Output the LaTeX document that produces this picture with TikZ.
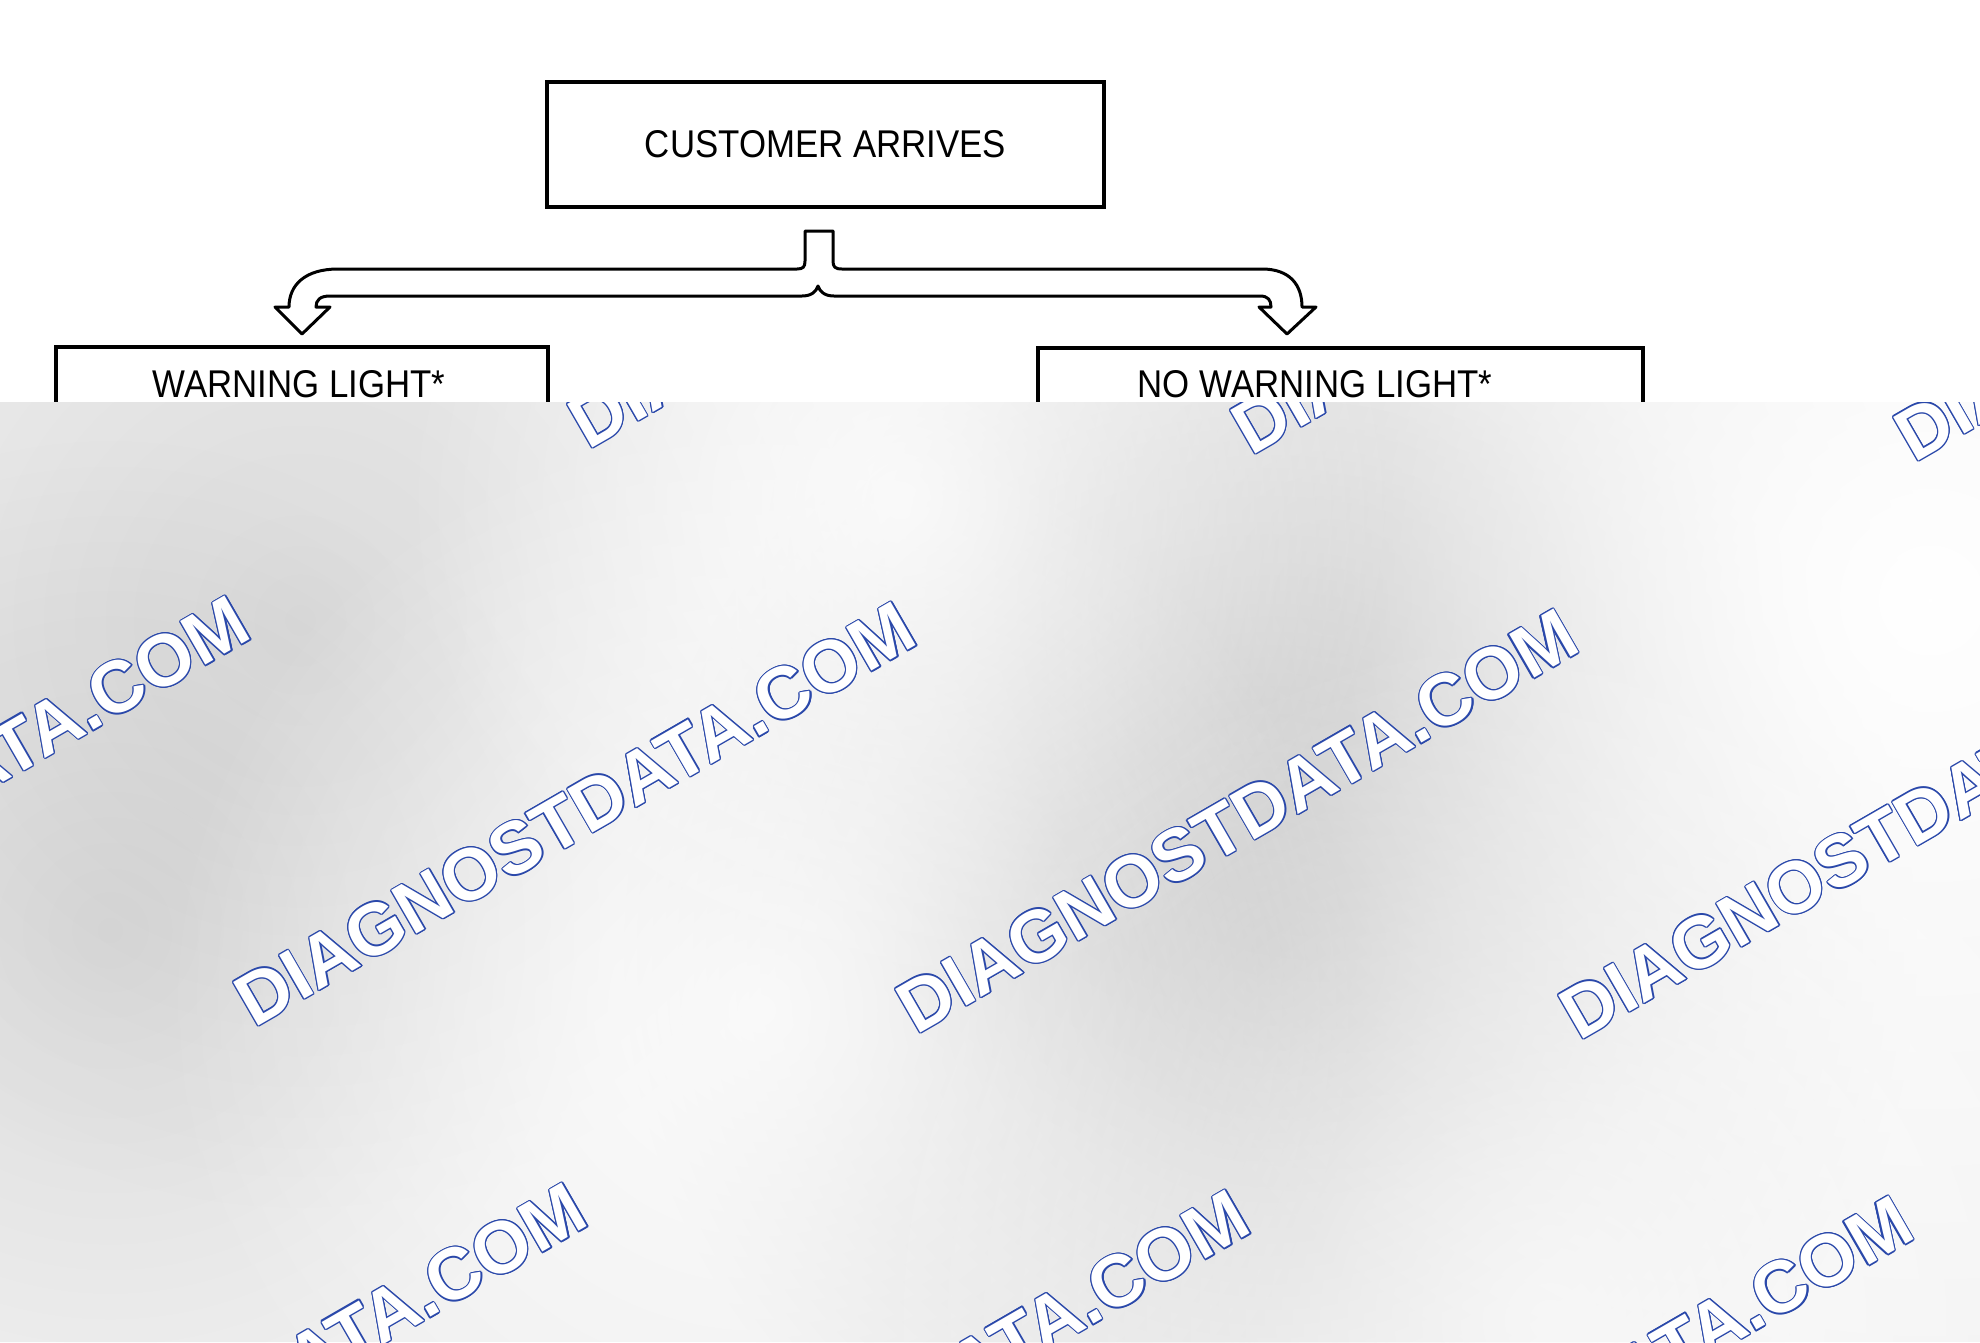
\documentclass[tikz,border=0pt]{standalone}
\usepackage{fontspec}
\setmainfont{Liberation Sans}[FakeStretch=0.9]
\newfontfamily\wmfont{Liberation Sans}
\usepackage{tikz}
\usetikzlibrary{positioning,calc,fadings}
\definecolor{wmblue}{HTML}{2A48AA}
\definecolor{veil}{HTML}{EFEFEF}
\tikzfading[name=softblob, inner color=transparent!0, outer color=transparent!100]
\tikzset{
  stepbox/.style={draw, rectangle, line width=1.1pt, inner sep=0pt},
  lbl/.style={font=\fontsize{11pt}{13pt}\selectfont, inner sep=0pt},
  forkarrow/.style={draw, fill=white, line width=0.85pt, line join=round},
  wmtext/.style={font=\wmfont\bfseries\fontsize{20.8pt}{25pt}\selectfont, rotate=30, inner sep=0pt},
  blob/.style={path fading=softblob},
}
% outlined watermark: blue copies round a white one
\newcommand\wmark[2]{%
  \foreach \a in {0,30,...,330}
    \node[wmtext, text=wmblue] (wm#1o\a) at ($(#2)+(\a:1.2)$) {DIAGNOSTDATA.COM};
  \node[wmtext, text=white] (wm#1) at (#2) {DIAGNOSTDATA.COM};}

\begin{document}
\begin{tikzpicture}[x=0.01cm, y=-0.01cm]
  \useasboundingbox (0,0) rectangle (1980,1342);
  \fill[white] (0,0) rectangle (1980,1342);

  \node[stepbox, lbl, minimum width=5.57cm, minimum height=1.25cm] (arrive) at (825.5,144.5) {CUSTOMER ARRIVES};
  \node[stepbox, minimum width=4.92cm, minimum height=1.3cm, anchor=north] (warn) at (302,345) {};
  \node[stepbox, minimum width=6.05cm, minimum height=1.3cm, anchor=north] (nowarn) at (1340.5,346) {};
  \node[lbl, anchor=base] (warntxt) at ($(warn.north)+(-3,52)$) {WARNING LIGHT*};
  \node[lbl, anchor=base] (nowarntxt) at ($(nowarn.north)+(-25.5,51)$) {NO WARNING LIGHT*};

  % split arrow
  \path[forkarrow] (805,231) -- (833,231) -- (833,261)
    .. controls (833,267) and (835,269) .. (842,269)
    -- (1262,269) .. controls (1290,269) and (1302,285) .. (1302,307)
    -- (1316,307) -- (1287,334) -- (1259,307) -- (1271,307)
    .. controls (1271,300) and (1268,296) .. (1260,296)
    -- (834,296) .. controls (825,296) and (820,292) .. (818,286)
    .. controls (816,292) and (811,296) .. (802,296)
    -- (330,296) .. controls (320,296) and (316,300) .. (316,307)
    -- (330,307) -- (302,334) -- (275,307) -- (289,307)
    .. controls (289,285) and (305,269) .. (338,269)
    -- (797,269) .. controls (803,269) and (805,267) .. (805,261) -- cycle;

  % blurred veil over the lower part
  \fill[veil] (0,402) rectangle (1980,1342);
  \begin{scope}
    \clip (0,402) rectangle (1980,1342);
    \fill[black, fill opacity=0.19, blob] (1270,950) circle (6.5cm);
    \fill[black, fill opacity=0.10, blob] (1330,600) circle (6cm);
    \fill[black, fill opacity=0.08, blob] (300,620) circle (6cm);
    \fill[black, fill opacity=0.08, blob] (110,930) circle (5cm);
    \fill[white, fill opacity=1.0, blob] (1930,600) circle (9cm);
    \fill[white, fill opacity=0.8, blob] (760,1010) circle (6cm);
    \fill[white, fill opacity=0.8, blob] (900,500) circle (5cm);
    \fill[white, fill opacity=0.7, blob] (1550,1320) circle (7cm);

    \wmark{a}{909,236}
    \wmark{b}{1572,242}
    \wmark{c}{2235,249}
    \wmark{d}{-91,808}
    \wmark{e}{575,814}
    \wmark{f}{1237,821}
    \wmark{g}{1900,827}
    \wmark{h}{246,1395}
    \wmark{i}{909,1402}
    \wmark{j}{1572,1408}
  \end{scope}
\end{tikzpicture}
\end{document}
